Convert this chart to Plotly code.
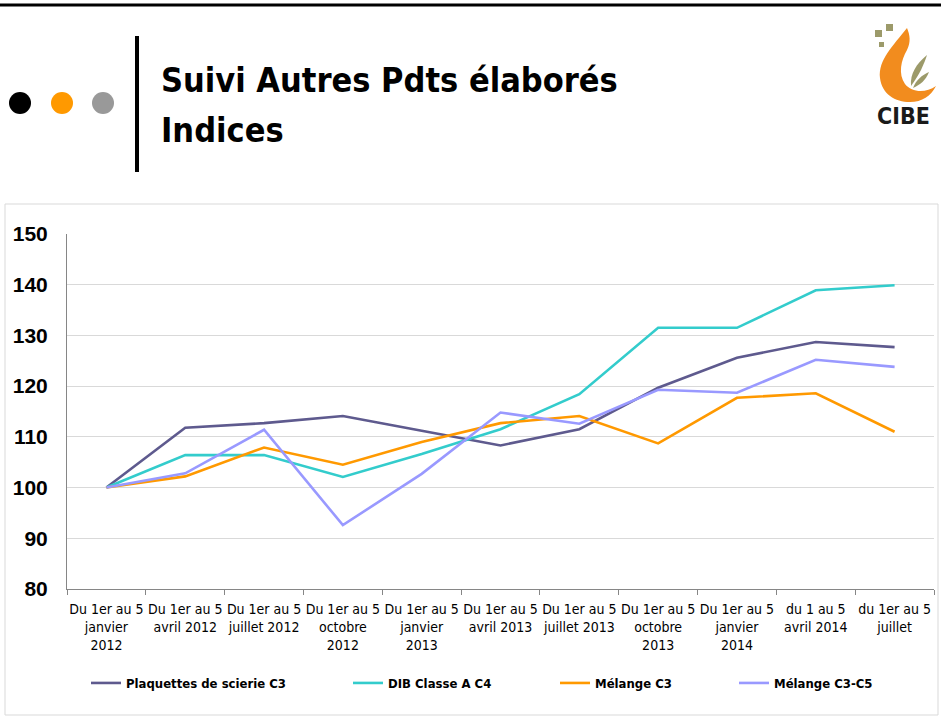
import plotly.graph_objects as go

categories = [
    "Du 1er au 5<br>janvier<br>2012",
    "Du 1er au 5<br>avril 2012",
    "Du 1er au 5<br>juillet 2012",
    "Du 1er au 5<br>octobre<br>2012",
    "Du 1er au 5<br>janvier<br>2013",
    "Du 1er au 5<br>avril 2013",
    "Du 1er au 5<br>juillet 2013",
    "Du 1er au 5<br>octobre<br>2013",
    "Du 1er au 5<br>janvier<br>2014",
    "du 1 au 5<br>avril 2014",
    "du 1er au 5<br>juillet",
]

plaquettes_c3 = [100, 111.8, 112.7, 114.1, 111.2, 108.3, 111.5, 119.7, 125.6, 128.7, 127.7]
dib_classe_a_c4 = [100, 106.4, 106.4, 102.1, 106.6, 111.5, 118.4, 131.5, 131.5, 138.9, 139.9]
melange_c3 = [100, 102.2, 107.9, 104.5, 109.0, 112.7, 114.1, 108.7, 117.7, 118.6, 111.0]
melange_c3_c5 = [100, 102.8, 111.4, 92.6, 102.7, 114.8, 112.6, 119.3, 118.7, 125.2, 123.8]

series_names = ["Plaquettes de scierie C3", "DIB Classe A C4", "Mélange C3", "Mélange C3-C5"]
series_values = [plaquettes_c3, dib_classe_a_c4, melange_c3, melange_c3_c5]
series_colors = ["#5E5A8E", "#33CCCC", "#FF9900", "#9999FF"]

y_ticks = [80, 90, 100, 110, 120, 130, 140, 150]

title_line1 = "Suivi Autres Pdts élaborés"
title_line2 = "Indices"

W, H = 941, 720
ML, MR, MT, MB = 67, 7, 234, 131
PW = W - ML - MR
PH = H - MT - MB


def px(x):
    return (x - ML) / PW


def py(y):
    return (H - MB - y) / PH


NARROW = "Liberation Sans Narrow, Arial Narrow, DejaVu Sans Condensed, sans-serif"

fig = go.Figure()
legend_names = ["legend", "legend2", "legend3", "legend4"]
for name, vals, col, lg in zip(series_names, series_values, series_colors, legend_names):
    fig.add_trace(go.Scatter(
        x=categories, y=vals, name=name, mode="lines",
        line=dict(color=col, width=2.6),
        legend=lg,
    ))

legend_x = [86, 348, 555, 734]
legend_common = dict(
    orientation="h", yanchor="middle", xanchor="left",
    font=dict(family=NARROW, size=13, color="#000000", weight="bold"),
    bgcolor="rgba(0,0,0,0)", itemwidth=30,
)
for lg, lx in zip(legend_names, legend_x):
    fig.update_layout(**{lg: dict(x=px(lx), y=py(683), **legend_common)})

shapes = []
# top black rule
shapes.append(dict(type="line", xref="paper", yref="paper", x0=px(0), x1=px(941), y0=py(5), y1=py(5),
                   line=dict(color="#000000", width=3)))
# dots
for cx, col in [(20, "#000000"), (62, "#FF9900"), (103, "#999999")]:
    shapes.append(dict(type="circle", xref="paper", yref="paper",
                       x0=px(cx - 11), x1=px(cx + 11), y0=py(103 + 11), y1=py(103 - 11),
                       fillcolor=col, line=dict(width=0)))
# vertical bar
shapes.append(dict(type="line", xref="paper", yref="paper", x0=px(137), x1=px(137), y0=py(36), y1=py(172),
                   line=dict(color="#000000", width=4)))
# chart border
shapes.append(dict(type="rect", xref="paper", yref="paper", x0=px(5), x1=px(938), y0=py(204), y1=py(715),
                   line=dict(color="#D9D9D9", width=1), layer="below"))


def path(pts):
    s = ""
    for item in pts:
        s += item[0] + " " + " ".join(
            f"{px(item[j]):.5f},{py(item[j+1]):.5f}" for j in range(1, len(item), 2)) + " "
    return s + "Z"


# logo flame
flame = [("M", 907, 28), ("C", 893, 46, 878, 60, 880, 78), ("C", 882, 94, 895, 102, 910, 102),
         ("C", 922, 102, 931, 96, 936, 86), ("C", 926, 93, 912, 93, 905, 84),
         ("C", 898, 74, 901, 60, 907, 50), ("C", 911, 42, 910, 35, 907, 28)]
shapes.append(dict(type="path", xref="paper", yref="paper", path=path(flame),
                   fillcolor="#F28C1E", line=dict(width=0)))
leaf1 = [("M", 911, 86), ("C", 910, 74, 916, 64, 927, 55), ("C", 924, 64, 920, 74, 911, 86)]
leaf2 = [("M", 913, 88), ("C", 916, 80, 922, 75, 929, 72), ("C", 926, 80, 920, 85, 913, 88)]
for lf in (leaf1, leaf2):
    shapes.append(dict(type="path", xref="paper", yref="paper", path=path(lf),
                       fillcolor="#9C9A6A", line=dict(width=0)))
for (x0, y0, x1, y1) in [(875, 30, 882, 37), (886, 24, 893, 31), (879, 42, 884, 47)]:
    shapes.append(dict(type="rect", xref="paper", yref="paper", x0=px(x0), x1=px(x1), y0=py(y1), y1=py(y0),
                       fillcolor="#9C9A6A", line=dict(width=0)))

annotations = [
    dict(text=title_line1, xref="paper", yref="paper", x=px(159), y=py(80), xanchor="left", yanchor="middle",
         showarrow=False, font=dict(family=NARROW, size=34, color="#000000", weight="bold")),
    dict(text=title_line2, xref="paper", yref="paper", x=px(159), y=py(130), xanchor="left", yanchor="middle",
         showarrow=False, font=dict(family=NARROW, size=34, color="#000000", weight="bold")),
    dict(text="CIBE", xref="paper", yref="paper", x=px(903), y=py(116), xanchor="center", yanchor="middle",
         showarrow=False, font=dict(family=NARROW, size=23, color="#1A1A1A", weight="bold")),
]

fig.update_layout(
    width=W, height=H,
    margin=dict(l=ML, r=MR, t=MT, b=MB),
    paper_bgcolor="#FFFFFF", plot_bgcolor="#FFFFFF",
    showlegend=True,
    shapes=shapes, annotations=annotations,
    xaxis=dict(
        type="category", showgrid=False, showline=True, linecolor="#868686", linewidth=1,
        ticks="outside", tickson="boundaries", ticklen=5, tickcolor="#868686",
        tickfont=dict(family=NARROW, size=14, color="#000000"), tickangle=0,
        range=[-0.5, len(categories) - 0.5], fixedrange=True,
        ticklabelstandoff=7,
    ),
    yaxis=dict(
        range=[80, 150], tickvals=y_ticks, showgrid=True, gridcolor="#D9D9D9", gridwidth=1,
        showline=True, linecolor="#868686", linewidth=1, zeroline=False, ticks="",
        tickfont=dict(family="Liberation Sans, Arial, sans-serif", size=21, color="#000000", weight="bold"),
        ticklabelstandoff=14,
    ),
)

fig.write_html(
    "out.html",
    config={"displayModeBar": False},
    post_script="document.body.style.margin='0';document.body.style.padding='0';"
                "document.documentElement.style.overflow='hidden';",
)
